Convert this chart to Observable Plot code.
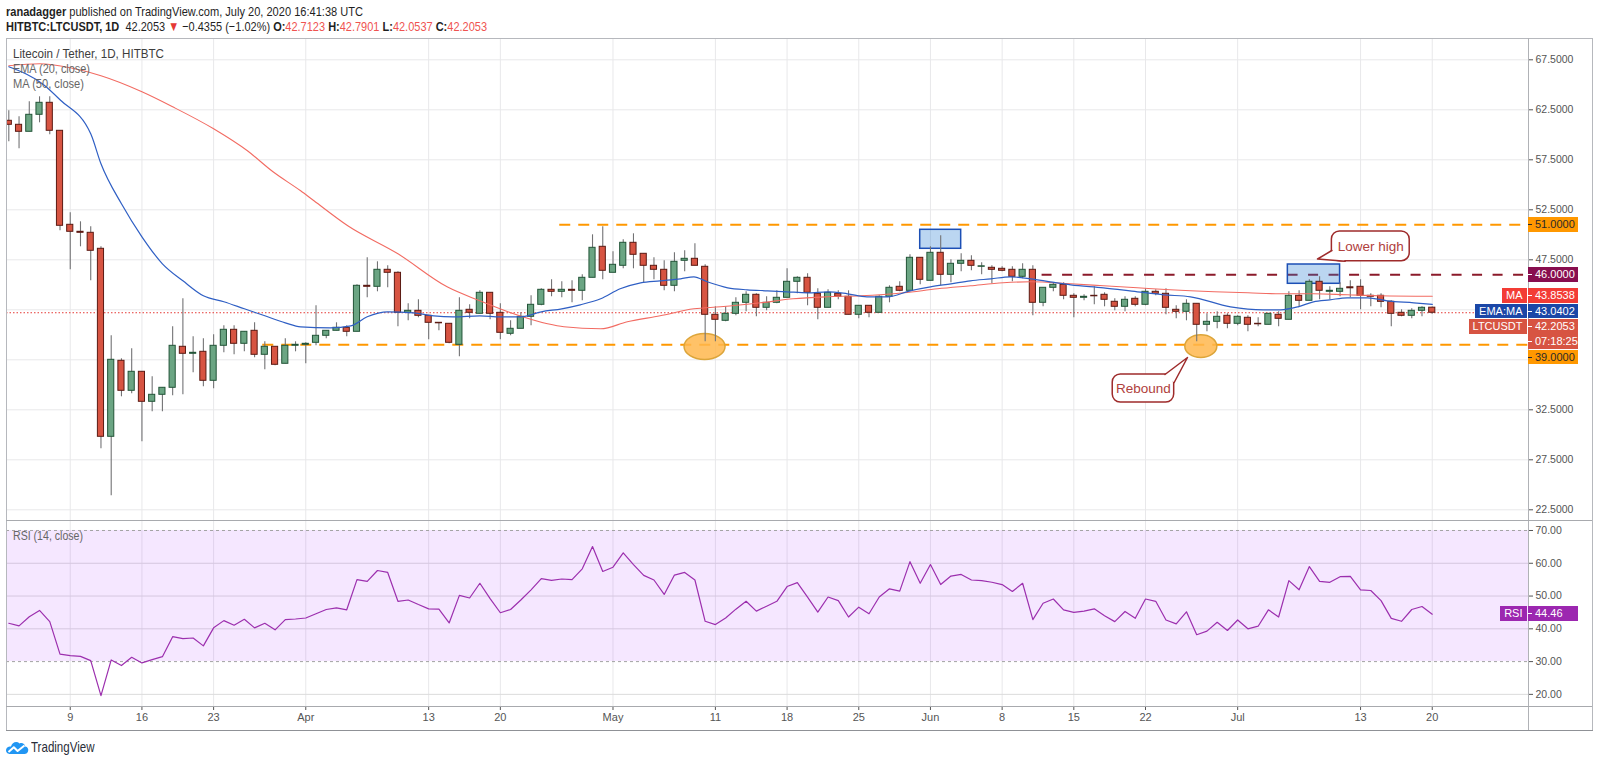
<!DOCTYPE html>
<html>
<head>
<meta charset="utf-8">
<script src="https://cdn.jsdelivr.net/npm/d3@7"></script>
<script src="https://cdn.jsdelivr.net/npm/@observablehq/plot@0.6"></script>
<style>
html,body{margin:0;padding:0;background:#fff;}
#root{position:relative;width:1600px;height:763px;overflow:hidden;font-family:"Liberation Sans",Arial,sans-serif;color:#1e1e1e;}
.abs{position:absolute;white-space:nowrap;line-height:1;}
.red{color:#ef5350;}
.box{position:absolute;height:14.6px;line-height:14.6px;font-size:11px;white-space:nowrap;box-sizing:border-box;}
.ln{position:absolute;background:#b6b8bd;}
</style>
</head>
<body>
<div id="root"></div>
<script>
// ---------------- DATA ----------------
const startDate = "2020-03-03";   // first daily candle
const opens = [61.4,61.0,60.3,62.0,63.2,60.4,51.0,50.3,50.2,48.6,
29.8,37.4,34.4,36.3,33.3,34.0,34.7,38.8,38.1,38.3,
35.4,38.9,40.5,39.1,40.4,38.0,38.8,37.1,38.9,39.0,
39.2,39.9,40.4,40.7,40.3,44.9,44.8,46.5,46.2,42.2,
42.4,41.9,41.2,41.1,39.0,42.5,42.1,44.2,42.2,40.1,
40.6,41.8,43.0,44.5,44.3,44.5,44.4,45.7,48.8,46.2,
46.9,49.2,48.1,46.9,46.5,44.9,47.4,47.6,46.8,42.0,
41.4,42.1,43.2,44.0,42.7,43.2,43.7,45.3,45.7,44.1,
42.7,44.1,43.8,42.0,42.9,42.2,43.8,44.8,44.4,47.7,
45.4,48.2,46.0,47.1,47.4,46.8,46.7,46.6,46.5,45.8,
46.5,43.2,44.7,45.0,43.9,43.7,43.9,44.0,43.3,42.8,
43.6,43.0,44.3,44.1,42.5,42.3,43.1,41.0,41.3,41.9,
41.1,41.7,41.1,41.0,42.0,41.5,43.9,43.4,45.3,44.3,
44.3,44.75,44.8,43.9,43.9,43.3,42.2,41.9,42.4,42.7123];
const highs = [62.4,61.8,63.3,63.8,63.8,60.4,52.2,51.3,50.8,48.8,
39.9,37.6,38.6,36.3,35.8,34.7,40.8,43.6,39.8,39.6,
40.0,40.9,40.9,40.3,41.2,39.3,38.8,39.6,39.3,39.2,
42.9,40.4,41.2,40.9,45.0,47.7,47.3,46.9,46.3,43.1,
43.5,41.9,41.2,41.1,43.7,43.0,44.4,44.2,43.1,41.4,
42.2,43.9,44.6,45.5,45.3,45.4,46.0,50.0,50.8,48.3,
49.5,50.1,48.1,47.7,47.4,48.2,48.4,49.1,47.0,42.8,
42.8,43.7,44.3,44.1,43.8,44.4,46.6,45.8,46.1,44.6,
44.5,44.4,44.4,42.9,42.9,43.9,44.9,45.3,48.0,47.7,
48.8,49.9,47.5,48.1,47.9,47.2,46.9,46.8,46.8,47.1,
46.9,44.7,45.2,45.2,44.1,44.0,44.8,44.2,43.6,43.8,
43.8,44.6,44.5,44.6,42.9,43.5,43.1,42.1,42.3,42.1,
41.9,41.9,41.7,42.1,42.3,44.3,44.4,45.5,45.8,44.8,
45.2,45.4,45.5,44.1,44.1,43.4,42.5,42.6,42.8,42.7901];
const lows = [59.3,58.6,60.3,61.2,60.0,50.4,46.5,48.8,45.4,28.6,
23.9,33.8,34.1,29.3,32.3,32.3,33.9,34.0,36.2,34.8,
34.6,38.2,38.0,38.3,37.7,36.5,36.9,37.1,38.3,37.1,
38.9,39.6,40.4,39.8,40.3,43.7,44.3,44.7,40.8,41.4,
41.7,39.5,40.4,39.1,37.8,41.6,42.1,41.5,39.5,39.9,
40.6,40.9,42.9,43.8,43.7,43.2,43.4,45.7,45.5,46.2,
46.6,46.6,45.2,45.5,44.4,44.3,46.3,46.9,39.3,39.3,
41.3,41.9,42.3,41.8,42.4,43.1,43.7,44.1,42.9,41.5,
42.7,43.5,42.0,41.6,41.7,42.2,43.2,44.3,44.3,45.0,
45.4,44.9,45.2,46.3,46.4,46.0,45.1,46.3,45.3,45.6,
41.9,42.8,44.3,43.5,41.7,43.4,43.0,42.8,42.4,42.3,
42.8,42.9,43.9,42.0,41.6,41.4,39.3,40.3,40.6,40.6,
40.9,40.3,40.8,41.0,40.8,41.5,42.8,43.4,43.5,43.5,
43.8,43.7,42.5,42.8,42.7,40.8,41.8,41.6,41.8,42.0537];
const closes = [61.0,60.3,62.0,63.2,60.4,50.9,50.3,50.2,48.4,29.8,
37.5,34.4,36.3,33.3,34.0,34.7,38.9,38.1,38.2,35.4,
38.9,40.5,39.1,40.3,38.0,38.8,37.0,38.9,39.0,39.1,
39.9,40.4,40.7,40.3,44.9,44.8,46.5,46.2,42.2,42.4,
41.9,41.2,41.15,39.2,42.4,42.2,44.2,42.1,40.2,40.6,
41.8,43.0,44.5,44.3,44.5,44.4,45.7,48.7,46.4,47.0,
49.2,48.0,46.9,46.5,44.9,47.3,47.6,46.9,42.0,41.5,
42.1,43.2,44.0,42.7,43.2,43.7,45.3,45.7,44.2,42.7,
44.2,43.8,42.0,42.9,42.2,43.8,44.7,44.4,47.7,45.5,
48.2,46.0,47.1,47.4,46.9,46.85,46.5,46.4,45.8,46.5,
43.2,44.7,45.0,43.9,43.7,43.8,43.85,43.5,42.8,43.5,
43.0,44.3,44.1,42.7,42.3,43.1,41.0,41.3,41.8,41.1,
41.8,41.0,41.05,42.1,41.6,43.9,43.4,45.3,44.4,44.4,
44.6,44.65,43.9,43.8,43.3,42.1,41.9,42.4,42.7,42.2053];
const rsiValues = [41.7,40.9,43.7,45.6,42.2,32.3,31.8,31.6,30.3,19.6,
30.5,28.8,31.3,29.6,30.6,31.5,37.6,37.0,37.2,34.8,
40.3,42.5,41.1,42.9,40.3,41.7,39.7,42.8,43.0,43.3,
44.6,45.9,46.4,45.8,55.0,54.5,57.8,57.2,48.4,48.8,
47.4,46.1,46.0,41.8,50.2,49.4,53.9,49.2,44.9,45.9,
48.8,51.9,55.3,54.8,55.2,55.0,58.3,65.1,57.5,58.8,
63.2,59.6,56.3,54.9,50.5,56.4,57.2,54.9,42.3,41.3,
43.3,46.0,48.4,45.4,46.9,48.4,52.9,54.1,49.7,45.1,
49.7,48.6,43.6,46.6,44.6,49.7,52.2,51.5,60.5,53.9,
59.6,53.5,56.1,56.6,54.9,54.7,54.2,53.5,51.4,53.9,
42.8,47.8,49.1,45.8,45.0,45.4,46.1,44.0,42.2,45.3,
43.2,49.1,48.4,42.7,41.5,45.2,38.2,39.3,42.0,39.5,
42.7,40.0,40.8,45.8,43.6,54.7,51.9,59.0,54.5,54.2,
55.9,56.0,51.9,51.7,48.6,43.2,42.3,45.9,46.8,44.46];
// EMA(20) and MA(50) at these day offsets from startDate
const emaDay = [0,3.4,5,8,9,11,13,15,17,19,21,23,25,27,28.5,31.4,33.4,35,37,39.5,41.5,43.4,46,48,50,52,54,55.8,57.8,59.7,61.7,63.6,65.6,66.9,68.2,70.2,72.1,74.1,76,78,80,81.9,83.8,85.8,88,90,92,93.9,95.9,97.8,99.8,101.7,103.7,106.9,110.2,112.8,115.4,119.3,122.5,124.2,125.9,127.4,129,130.7,132.7,134.6,137.2,139];
const emaValue = [66.8,65.0,63.5,60.1,57.1,53.1,49.8,47.1,45.4,43.9,43.3,42.6,41.9,41.2,40.8,40.7,40.9,41.8,42.3,42.2,41.9,41.8,41.9,41.8,41.8,42.3,42.6,43.0,43.6,44.6,45.2,45.4,45.6,45.8,45.3,44.7,44.5,44.4,44.3,44.2,44.3,44.1,43.8,43.8,44.4,44.8,45.1,45.4,45.6,45.8,45.6,45.3,45.0,44.7,44.3,44.0,43.8,42.8,42.5,42.5,42.8,43.3,43.5,43.7,43.7,43.4,43.2,43.04];
const maDay = [0,3,6,9,13,16,20,23.3,25.8,28.5,29.8,33.1,38,42.8,46,49.3,52.6,54.2,57.8,60.4,63.6,66.9,69.5,73.4,76.6,79.9,83.2,87.4,90.7,93.9,97.1,99.8,103.7,106.9,110.2,113.4,115.4,117.7,121,124.2,127.4,130.7,133.9,139];
const maValue = [66.9,67.1,66.7,65.9,64.3,62.8,60.6,58.4,56.3,54.4,53.4,50.9,48.1,44.8,43.4,42.1,41.1,40.8,40.6,41.3,41.9,42.6,42.8,43.2,43.6,43.8,43.9,44.2,44.6,44.9,45.2,45.3,45.1,44.9,44.7,44.5,44.4,44.3,44.2,44.1,44.1,44.0,43.9,43.85];
const maLabelValue = 43.8538, emaLabelValue = 43.0402, countdownText = "07:18:25";
// ticks
const xTickDates = ["2020-03-09","2020-03-16","2020-03-23","2020-04-01","2020-04-13","2020-04-20","2020-05-01","2020-05-11","2020-05-18","2020-05-25","2020-06-01","2020-06-08","2020-06-15","2020-06-22","2020-07-01","2020-07-13","2020-07-20"];
const xTickLabels = ["9","16","23","Apr","13","20","May","11","18","25","Jun","8","15","22","Jul","13","20"];
const priceTicks = [22.5,27.5,32.5,37.5,42.5,47.5,52.5,57.5,62.5,67.5];
const rsiTicks = [20,30,40,50,60,70];
const rsiBand = [30,70];
// annotations
const levelPrices = [51, 46, 39];
const levelStartDay = [53.8, 100.9, 24.8];
const hlDay1 = [89, 124.9], hlDay2 = [93, 130], hlLow = [48.6, 45.1], hlHigh = [50.5, 47.03];
const ellipseDay = [67.94, 116.4], ellipsePrice = [38.83, 38.86];
const calloutText = ["Lower high", "Rebound"];
const calloutDay1 = [129.2, 107.8], calloutDay2 = [136.8, 113.8];
const calloutTop = [50.33, 36.03], calloutBottom = [47.36, 33.23];
const tailBase1Day = [129.2, 112.9], tailBase1Price = [48.43, 36.03];
const tailTipDay = [127.8, 115.1], tailTipPrice = [47.58, 37.73];
const tailBase2Day = [130.5, 113.8], tailBase2Price = [47.36, 35.23];

// ---------------- HELPERS ----------------
const DAY = 864e5;
const t0 = +new Date(startDate);
const dayToDate = d => new Date(t0 + d * DAY);
const candles = opens.map((o, i) => ({date: dayToDate(i), open: o, high: highs[i], low: lows[i], close: closes[i]}));
const rsiData = rsiValues.map((v, i) => ({date: dayToDate(i), v}));
const emaData = emaDay.map((d, i) => ({date: dayToDate(d), v: emaValue[i]}));
const maData = maDay.map((d, i) => ({date: dayToDate(d), v: maValue[i]}));
const xTicks = xTickDates.map(s => new Date(s));
const tickLabel = new Map(xTicks.map((d, i) => [+d, xTickLabels[i]]));
const xDomain = [dayToDate(-0.225), dayToDate(148.4)];
const lastClose = closes[closes.length - 1];

const UP_FILL = "#6ba583", UP_LINE = "#225437", DN_FILL = "#d75442", DN_LINE = "#5b1a13";
const ORANGE = "#ff9800", MAROON = "#880e4f", CALL = "#9e2b2b";

function ellipseSymbol(ratio) {
  return {draw(ctx, size) {
    const rx = Math.sqrt(size / Math.PI), ry = rx * ratio, k = 0.5523;
    ctx.moveTo(rx, 0);
    ctx.bezierCurveTo(rx, ry * k, rx * k, ry, 0, ry);
    ctx.bezierCurveTo(-rx * k, ry, -rx, ry * k, -rx, 0);
    ctx.bezierCurveTo(-rx, -ry * k, -rx * k, -ry, 0, -ry);
    ctx.bezierCurveTo(rx * k, -ry, rx, -ry * k, rx, 0);
    ctx.closePath();
  }};
}

const root = document.getElementById("root");
const plotStyle = {background: "transparent", overflow: "visible", fontFamily: "Liberation Sans, Arial, sans-serif", fontSize: "10.5px", color: "#555"};

const levels = levelPrices.map((p, i) => ({p, start: dayToDate(levelStartDay[i])}));
const hl = hlDay1.map((d, i) => ({x1: dayToDate(d), x2: dayToDate(hlDay2[i]), y1: hlLow[i], y2: hlHigh[i]}));
const ell = ellipseDay.map((d, i) => ({date: dayToDate(d), p: ellipsePrice[i]}));
const callouts = calloutText.map((t, i) => ({t, x1: dayToDate(calloutDay1[i]), x2: dayToDate(calloutDay2[i]), y1: calloutBottom[i], y2: calloutTop[i],
  xc: dayToDate((calloutDay1[i] + calloutDay2[i]) / 2), yc: (calloutTop[i] + calloutBottom[i]) / 2}));
const tails = calloutText.flatMap((t, i) => [
  {i, d: tailBase1Day[i], p: tailBase1Price[i]},
  {i, d: tailTipDay[i], p: tailTipPrice[i]},
  {i, d: tailBase2Day[i], p: tailBase2Price[i]}]);

// ---------------- PRICE PANE ----------------
const pricePlot = Plot.plot({
  width: 1586, height: 482, marginLeft: 0, marginRight: 64, marginTop: 0, marginBottom: 0,
  style: plotStyle,
  x: {type: "utc", domain: xDomain, axis: null},
  y: {domain: [21.43, 69.63]},
  marks: [
    Plot.gridX(xTicks, {stroke: "#e8e8ea", strokeOpacity: 1}),
    Plot.gridY(priceTicks, {stroke: "#e8e8ea", strokeOpacity: 1}),
    Plot.ruleY([lastClose], {stroke: "#e53935", strokeWidth: 1, strokeDasharray: "1.5,2"}),
    Plot.ruleY(levels.filter((d, i) => i !== 1), {y: "p", x1: "start", x2: () => xDomain[1], stroke: ORANGE, strokeWidth: 2, strokeDasharray: "11,8"}),
    Plot.ruleY(levels.filter((d, i) => i === 1), {y: "p", x1: "start", x2: () => xDomain[1], stroke: "#8b1a2a", strokeWidth: 2, strokeDasharray: "10,10.5"}),
    Plot.rect(hl, {x1: "x1", x2: "x2", y1: "y1", y2: "y2", fill: "#2a7fd4", fillOpacity: 0.32, stroke: "#1c4fb5", strokeWidth: 1.5}),
    Plot.dot(ell.slice(0, 1), {x: "date", y: "p", r: 20.5, symbol: ellipseSymbol(0.63), fill: "#ffb74d", fillOpacity: 0.85, stroke: "#dca53a", strokeWidth: 1.5}),
    Plot.dot(ell.slice(1), {x: "date", y: "p", r: 16, symbol: ellipseSymbol(0.71), fill: "#ffb74d", fillOpacity: 0.85, stroke: "#dca53a", strokeWidth: 1.5}),
    Plot.ruleX(candles, {x: "date", y1: "low", y2: "high", stroke: "#737375", strokeWidth: 1.1, clip: true}),
    Plot.rect(candles, {
      x1: d => new Date(+d.date - 0.3 * DAY), x2: d => new Date(+d.date + 0.3 * DAY),
      y1: "open", y2: "close",
      fill: d => d.close >= d.open ? UP_FILL : DN_FILL,
      stroke: d => d.close >= d.open ? UP_LINE : DN_LINE, strokeWidth: 1, clip: true}),
    Plot.line(maData, {x: "date", y: "v", stroke: "#f26b62", strokeWidth: 1.1, curve: "monotone-x"}),
    Plot.line(emaData, {x: "date", y: "v", stroke: "#2f5fc4", strokeWidth: 1.2, curve: "monotone-x"}),
    Plot.rect(callouts, {x1: "x1", x2: "x2", y1: "y1", y2: "y2", fill: "white", stroke: CALL, strokeWidth: 1.5, rx: 8}),
    Plot.line(tails, {x: d => dayToDate(d.d), y: "p", z: "i", fill: "white", stroke: CALL, strokeWidth: 1.5}),
    Plot.text(callouts, {x: "xc", y: "yc", text: "t", fill: "#b0403c", fontSize: 13.5, style: {letterSpacing: "0.3px"}}),
    Plot.axisY(priceTicks, {anchor: "right", tickSize: 4, tickPadding: 3, tickFormat: d => d.toFixed(4), fontSize: 10.5, color: "#555", label: null})
  ]
});

// ---------------- RSI PANE ----------------
const rsiPlot = Plot.plot({
  width: 1586, height: 210, marginLeft: 0, marginRight: 64, marginTop: 0, marginBottom: 24,
  style: plotStyle,
  x: {type: "utc", domain: xDomain},
  y: {domain: [16.3, 73.05]},
  marks: [
    Plot.gridX(xTicks, {stroke: "#e8e8ea", strokeOpacity: 1}),
    Plot.gridY(rsiTicks.filter(v => !rsiBand.includes(v)), {stroke: "#dcdcdc", strokeOpacity: 1}),
    Plot.rect([rsiBand], {x1: () => xDomain[0], x2: () => xDomain[1], y1: d => d[0], y2: d => d[1], fill: "rgb(153,21,255)", fillOpacity: 0.1}),
    Plot.ruleY(rsiBand, {stroke: "#a3a3a3", strokeDasharray: "3,3"}),
    Plot.line(rsiData, {x: "date", y: "v", stroke: "#9c2fae", strokeWidth: 1.2}),
    Plot.axisY(rsiTicks, {anchor: "right", tickSize: 4, tickPadding: 3, tickFormat: d => d.toFixed(2), fontSize: 10.5, color: "#555", label: null}),
    Plot.axisX(xTicks, {anchor: "bottom", tickSize: 4, tickPadding: 3, tickFormat: d => tickLabel.get(+d), fontSize: 11, color: "#555", label: null})
  ]
});

function place(el, left, top) {
  const w = document.createElement("div");
  w.className = "abs"; w.style.left = left + "px"; w.style.top = top + "px";
  w.appendChild(el); root.appendChild(w); return w;
}
place(pricePlot, 6, 38);
place(rsiPlot, 6, 520);

// frame lines
function ln(l, t, w, h, c) {
  const e = document.createElement("div"); e.className = "ln";
  Object.assign(e.style, {left: l + "px", top: t + "px", width: w + "px", height: h + "px"});
  if (c) e.style.background = c; root.appendChild(e);
}
ln(6, 38, 1587, 1); ln(6, 38, 1, 693); ln(1592, 38, 1, 693); ln(6, 730, 1587, 1.2, "#8f9196");
ln(1528, 38, 1, 692, "#b0b2b6"); ln(6, 519.5, 1586, 1.6, "#a8aaae"); ln(6, 706, 1586, 1.2, "#a8aaae");

// texts
function addText(html, left, cy, fs, w, style) {
  const el = document.createElement("div"); el.className = "abs"; el.innerHTML = html;
  Object.assign(el.style, {left: left + "px", top: (cy - fs * 0.52) + "px", fontSize: fs + "px"}, style || {});
  root.appendChild(el);
  if (w) { const a = el.getBoundingClientRect().width; el.style.transformOrigin = "0 50%"; el.style.transform = `scaleX(${w / a})`; }
  return el;
}
addText('<b>ranadagger</b> published on TradingView.com, July 20, 2020 16:41:38 UTC', 6, 11.7, 13.5, 357, {color: "#1f1f1f"});
addText('<b>HITBTC:LTCUSDT, 1D</b>&nbsp; 42.2053 <span style="color:#e53935">▼</span> −0.4355 (−1.02%) <b>O:</b><span class="red">42.7123</span> <b>H:</b><span class="red">42.7901</span> <b>L:</b><span class="red">42.0537</span> <b>C:</b><span class="red">42.2053</span>', 6, 26.7, 13.5, 481, {color: "#1f1f1f"});
addText('Litecoin / Tether, 1D, HITBTC', 13.3, 54, 13.5, 151, {color: "#3d3d3d"});
addText('EMA (20, close)', 13.3, 69.5, 12.5, 77, {color: "#666"});
addText('MA (50, close)', 13.3, 84.2, 12.5, 71, {color: "#666"});
addText('RSI (14, close)', 12.8, 536, 12.5, 70, {color: "#666"});
addText('TradingView', 30.7, 747, 15, 63.5, {color: "#2a2e39"});
const logo = document.createElement("div"); logo.className = "abs";
logo.style.left = "5px"; logo.style.top = "739px";
logo.innerHTML = '<svg width="24" height="16" viewBox="0 0 24 16"><path d="M5.5 15 C2 15 0.5 12.5 1.2 10.2 C1.9 8 4 7 6 7.6 C6.8 3.5 11.5 1.6 14.6 4.4 C16.8 3.2 20 4.6 20.1 7.6 C22.8 7.8 24 10.6 22.8 13 C22.2 14.3 21 15 19.6 15 Z" fill="#2196f3"/><polyline points="3.5,13 8.8,8.2 12.6,12 19.5,6.5" stroke="#fff" stroke-width="2" fill="none" stroke-linejoin="round"/></svg>';
root.appendChild(logo);

// right-axis value labels (positions from the plot's own y scales)
const yP = pricePlot.scale("y"), yR = rsiPlot.scale("y");
function valueBox(cy, text, bg, fg) {
  const b = document.createElement("div"); b.className = "box";
  Object.assign(b.style, {left: "1528px", top: (cy - 7.3) + "px", width: "50px", background: bg, color: fg, paddingLeft: "7px"});
  b.textContent = text;
  const tk = document.createElement("div");
  Object.assign(tk.style, {position: "absolute", left: "0px", top: "7px", width: "4px", height: "1px", background: fg});
  b.appendChild(tk); root.appendChild(b);
}
function nameBox(cy, text, bg, fg) {
  const b = document.createElement("div"); b.className = "box";
  Object.assign(b.style, {right: (1600 - 1526.5) + "px", top: (cy - 7.3) + "px", background: bg, color: fg, padding: "0 4px"});
  b.textContent = text; root.appendChild(b);
}
const fmt4 = v => v.toFixed(4);
const labels = [
  {v: levelPrices[0], text: fmt4(levelPrices[0]), bg: ORANGE, fg: "#2a2a2a"},
  {v: levelPrices[1], text: fmt4(levelPrices[1]), bg: MAROON, fg: "#fff"},
  {v: maLabelValue, text: fmt4(maLabelValue), name: "MA", bg: "#f33c35", fg: "#fff"},
  {v: emaLabelValue, text: fmt4(emaLabelValue), name: "EMA:MA", bg: "#1b47a7", fg: "#fff"},
  {v: lastClose, text: fmt4(lastClose), name: "LTCUSDT", bg: DN_FILL, fg: "#fff"},
  {v: lastClose, text: countdownText, bg: DN_FILL, fg: "#fff"},
  {v: levelPrices[2], text: fmt4(levelPrices[2]), bg: ORANGE, fg: "#2a2a2a"}
];
let prev = -Infinity;
for (const L of labels) {
  const cy = Math.max(38 + yP.apply(L.v), prev + 15.3); prev = cy;
  valueBox(cy, L.text, L.bg, L.fg);
  if (L.name) nameBox(cy, L.name, L.bg, L.fg);
}
const rsiLast = rsiValues[rsiValues.length - 1];
const rcy = 520 + yR.apply(rsiLast);
valueBox(rcy, rsiLast.toFixed(2), "#9c27b0", "#fff");
nameBox(rcy, "RSI", "#9c27b0", "#fff");
</script>
</body>
</html>
